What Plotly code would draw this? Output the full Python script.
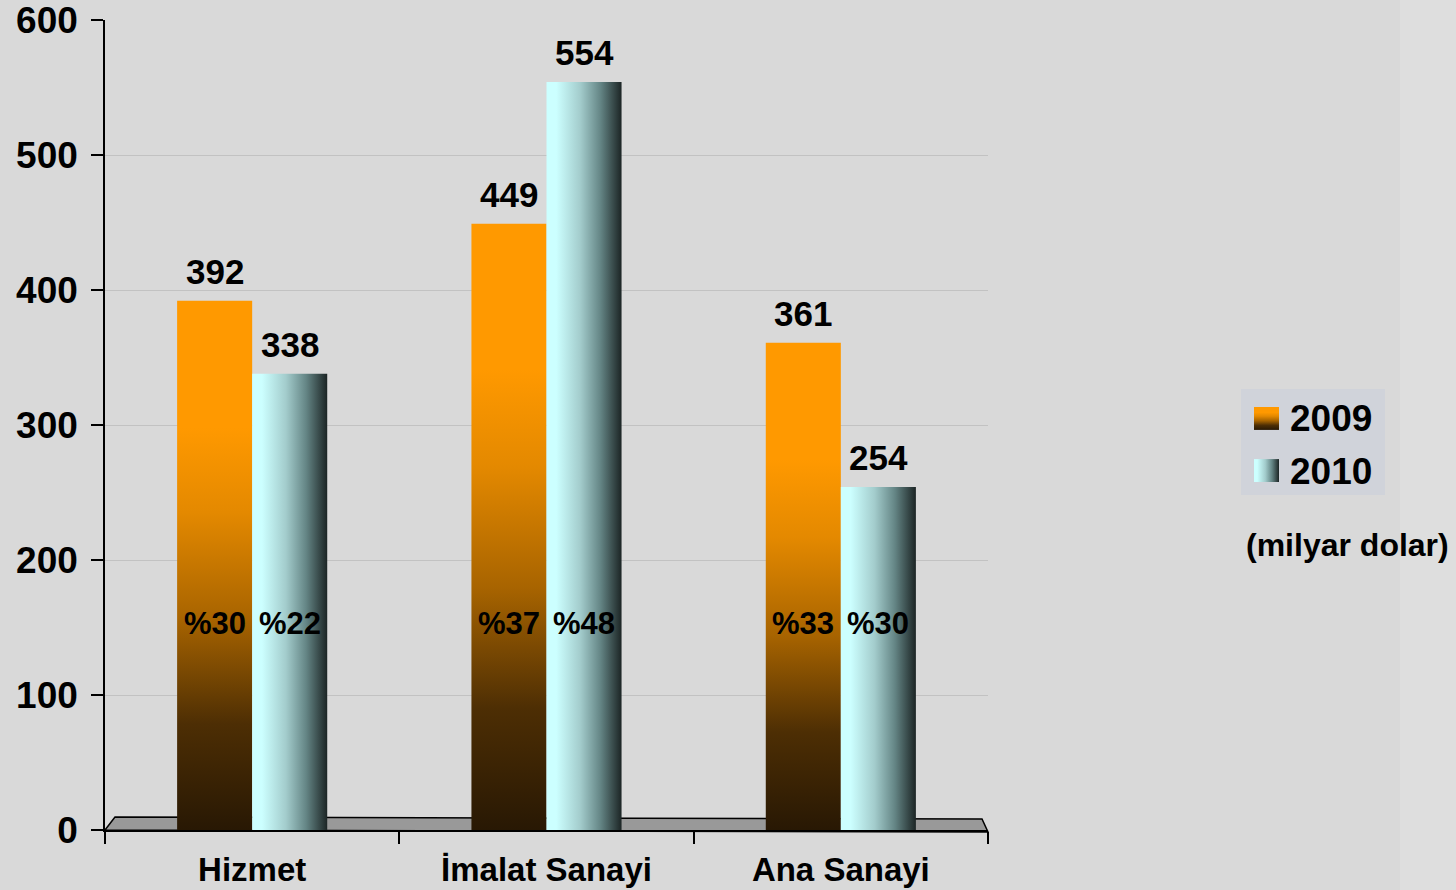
import plotly.graph_objects as go

categories = ["Hizmet", "İmalat Sanayi", "Ana Sanayi"]
years = ["2009", "2010"]
values_2009 = [392, 449, 361]
values_2010 = [338, 554, 254]
share_2009 = [30, 37, 33]
share_2010 = [22, 48, 30]
y_ticks = [0, 100, 200, 300, 400, 500, 600]
unit_label = "(milyar dolar)"

FONT = "Liberation Sans, Arial, Helvetica, sans-serif"
BAR_W = 0.255
PCT_Y = 153

W, H = 1456, 890
ML, MR, MT, MB = 105, 0, 20, 60
PW = W - ML - MR
PH = H - MT - MB


def px(xp):
    return (xp - ML) / PW


def py(yp):
    return (H - MB - yp) / PH


grad_2009 = dict(type="vertical", colorscale=[
    [0, "#281804"], [0.2, "#4d2e04"], [0.4, "#a86400"],
    [0.6, "#e48900"], [0.76, "#ff9900"], [1, "#ff9900"]])
grad_2010 = dict(type="horizontal", colorscale=[
    [0, "#ccffff"], [0.13, "#ccffff"], [0.45, "#a3cccc"],
    [0.72, "#648585"], [1, "#1c2525"]])

fig = go.Figure()
annotations = []
series = [
    (years[0], values_2009, share_2009, grad_2009, -1),
    (years[1], values_2010, share_2010, grad_2010, 0),
]
for name, vals, shares, grad, off in series:
    for i, v in enumerate(vals):
        x0 = i + off * BAR_W
        x1 = x0 + BAR_W
        fig.add_trace(go.Scatter(
            x=[x0, x1, x1, x0, x0], y=[0, 0, v, v, 0],
            mode="lines", line=dict(width=0), fill="toself",
            fillgradient=grad, name=name, showlegend=False, hoverinfo="skip"))
        xc = (x0 + x1) / 2
        annotations.append(dict(x=xc, y=v, xref="x", yref="y", text=str(v),
                                showarrow=False, yanchor="bottom", yshift=8,
                                font=dict(family=FONT, size=35, color="black", weight="bold")))
        annotations.append(dict(x=xc, y=PCT_Y, xref="x", yref="y", text=f"%{shares[i]}",
                                showarrow=False, yanchor="middle",
                                font=dict(family=FONT, size=31, color="black", weight="bold")))

# custom legend with gradient swatches (swatch k on secondary axes)
SW_H = 0.44
for k, (name, grad) in enumerate([(years[0], grad_2009), (years[1], grad_2010)]):
    top = 1 + SW_H - k
    fig.add_trace(go.Scatter(
        x=[0, 1, 1, 0, 0], y=[top - SW_H, top - SW_H, top, top, top - SW_H],
        mode="lines", line=dict(width=0), fill="toself", fillgradient=grad,
        xaxis="x2", yaxis="y2", showlegend=False, hoverinfo="skip"))
    annotations.append(dict(x=px(1288), y=py(418 + 53 * k), xref="paper", yref="paper",
                            text=name, showarrow=False, xanchor="left", yanchor="middle",
                            font=dict(family=FONT, size=37, color="black", weight="bold")))

annotations.append(dict(x=px(1347), y=py(545), xref="paper", yref="paper", text=unit_label,
                        showarrow=False, xanchor="center", yanchor="middle",
                        font=dict(family=FONT, size=32, color="black", weight="bold")))

shapes = [
    dict(type="rect", xref="paper", yref="paper", x0=px(1400), x1=px(1470),
         y0=py(900), y1=py(-10),
         fillcolor="#dedede", line=dict(width=0), layer="below"),
    dict(type="rect", xref="paper", yref="paper", x0=px(1241), x1=px(1385),
         y0=py(495), y1=py(389),
         fillcolor="#d0d3da", line=dict(width=0), layer="below"),
    dict(type="path", xref="paper", yref="paper",
         path=f"M {px(105)} {py(830)} L {px(115)} {py(817)} L {px(982)} {py(819)} "
              f"L {px(988)} {py(832)} Z",
         fillcolor="#999999", line=dict(color="black", width=1.5), layer="below"),
]

fig.update_layout(
    width=W, height=H,
    margin=dict(l=ML, r=MR, t=MT, b=MB, autoexpand=False),
    paper_bgcolor="#d9d9d9", plot_bgcolor="#d9d9d9",
    font=dict(family=FONT, color="black"),
    showlegend=False,
    annotations=annotations, shapes=shapes,
    xaxis=dict(domain=[0, px(988)], range=[-0.5, 2.5], tickvals=[0, 1, 2],
               ticktext=categories, automargin=False,
               ticks="", showgrid=False, zeroline=False,
               showline=True, linecolor="black", linewidth=1.5,
               tickfont=dict(family=FONT, size=33, weight="bold"),
               ticklabelstandoff=10, ticklabeloverflow="allow",
               minor=dict(tick0=-0.5, dtick=1, ticks="outside", ticklen=12,
                          tickcolor="black", tickwidth=1.5, showgrid=False)),
    yaxis=dict(range=[0, 600], tickvals=y_ticks, ticks="outside", ticklen=12,
               tickcolor="black", tickwidth=1.5, showline=True, linecolor="black",
               linewidth=1.5, gridcolor="#c2c2c2", gridwidth=1, zeroline=False,
               automargin=False, ticklabeloverflow="allow",
               tickfont=dict(family=FONT, size=37, weight="bold"),
               ticklabelstandoff=6),
    xaxis2=dict(domain=[px(1254), px(1279)], range=[0, 1], visible=False,
                anchor="y2", fixedrange=True),
    yaxis2=dict(domain=[py(482), py(407)], range=[0, 1 + SW_H], visible=False,
                anchor="x2", fixedrange=True),
)

fig.write_html("out.html", config=dict(displayModeBar=False),
               post_script="document.body.style.margin='0';")
